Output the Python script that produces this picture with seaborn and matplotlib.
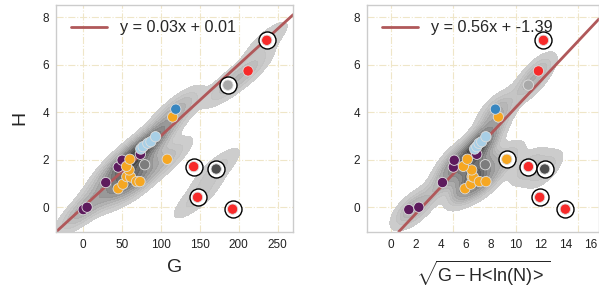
import numpy as np
import pandas as pd
import matplotlib
matplotlib.use("Agg")
import matplotlib.pyplot as plt
import seaborn as sns

# point data: group, G, H, sqrt(G - H<ln N>)
group = ['purple'] * 6 + ['orange'] * 11 + ['lightblue'] * 5 + ['gray', 'blue'] + \
        ['red'] * 5 + ['darkgray', 'lightgray']
G = [0, 5, 29, 45, 50, 73.5,
     45, 51, 56, 61, 68.5, 73, 59, 55.6, 60, 108, 115,
     74, 77, 83, 87, 93,
     79, 119,
     142, 147, 192, 212, 236,
     171, 186]
H = [-0.1, 0.0, 1.04, 1.69, 1.98, 2.23,
     0.78, 0.97, 1.29, 1.27, 1.08, 1.08, 1.57, 1.72, 2.02, 2.02, 3.8,
     2.45, 2.55, 2.69, 2.76, 2.97,
     1.79, 4.13,
     1.71, 0.42, -0.08, 5.74, 7.03,
     1.61, 5.14]
S = [1.44, 2.24, 4.13, 5.0, 5.07, 6.87,
     5.93, 6.4, 6.5, 6.6, 7.08, 7.61, 6.47, 5.8, 6.12, 9.27, 8.6,
     6.7, 6.87, 7.05, 7.27, 7.6,
     7.55, 8.36,
     11.0, 11.9, 13.95, 11.8, 12.2,
     12.3, 11.0]
# outliers ringed in each panel
ring_left = [0] * 24 + [1, 1, 1, 0, 1, 1, 1]
ring_right = [0] * 15 + [1] + [0] * 8 + [1, 1, 1, 0, 1, 1, 0]
# weight of each point in the density shading
kde_left = [1] * 24 + [0, 0.8, 0, 1, 0.6, 0.8, 1]
kde_right = [1] * 24 + [1, 0, 0, 1, 0, 1, 1]

fit_left = (0.03, 0.01)
fit_right = (0.56, -1.39)

palette = {'purple': '#5d1b5d', 'orange': '#f6a722', 'lightblue': '#a8cfe6',
           'blue': '#3886c0', 'gray': '#7d7d7d', 'darkgray': '#4e4e4e',
           'red': '#f72a2a', 'lightgray': '#a9a9a9'}

df = pd.DataFrame({'group': group, 'G': G, 'H': H, 'S': S,
                   'ring_l': ring_left, 'ring_r': ring_right,
                   'w_l': kde_left, 'w_r': kde_right})

sns.set_style("white")
plt.rcParams['font.family'] = ['Liberation Sans', 'DejaVu Sans']
plt.rcParams['mathtext.fontset'] = 'custom'
plt.rcParams['mathtext.rm'] = 'Liberation Sans'
plt.rcParams['mathtext.it'] = 'Liberation Sans:italic'

fig = plt.figure(figsize=(5.99, 2.88), dpi=100)
ax1 = fig.add_axes([0.0935, 0.1955, 0.396, 0.7875])
ax2 = fig.add_axes([0.6127, 0.1955, 0.3873, 0.7875])

greys = sns.blend_palette(['#cfcfcf', '#3a3a3a'], as_cmap=True)


def panel(ax, xcol, wcol, rcol, fit, xlim, xticks, gridx, xlabel):
    for x in gridx:
        ax.axvline(x, color='#efe6c8', lw=0.8, ls='-.', zorder=0)
    for y in [0, 2, 4, 6, 8]:
        ax.axhline(y, color='#efe6c8', lw=0.8, ls='-.', zorder=0)
    sns.kdeplot(data=df, x=xcol, y='H', weights=wcol, fill=True, cmap=greys,
                levels=12, thresh=0.04, bw_adjust=0.62, alpha=0.95, ax=ax, zorder=1)
    m, b = fit
    ax.axline((0, b), slope=m, color='#b0585a', lw=2,
              label=f'y = {m}x + {b}', zorder=2)
    rings = df[df[rcol] == 1]
    ax.scatter(rings[xcol], rings['H'], s=150, facecolor='white',
               edgecolor='black', lw=1, zorder=3)
    sns.scatterplot(data=df, x=xcol, y='H', hue='group', palette=palette,
                    s=55, edgecolor='#dddddd', linewidth=0.6, legend=False,
                    ax=ax, zorder=4)
    ax.set_xlim(*xlim)
    ax.set_ylim(-1.03, 8.52)
    ax.set_xticks(xticks)
    ax.set_yticks([0, 2, 4, 6, 8])
    ax.tick_params(length=3, width=0.8, color='#555555', labelsize=8.5,
                   labelcolor='#222222', pad=2)
    ax.set_xlabel(xlabel, fontsize=14, labelpad=6)
    ax.set_ylabel('')
    for sp in ax.spines.values():
        sp.set_color('#cccccc')
        sp.set_linewidth(1)
    ax.legend(loc='upper left', frameon=False, fontsize=11.7,
              handlelength=2.2, borderaxespad=0.55, handletextpad=0.8)


panel(ax1, 'G', 'w_l', 'ring_l', fit_left, (-35, 270), [0, 50, 100, 150, 200, 250],
      [0, 50, 100, 150, 200, 250], 'G')
ax1.set_ylabel('H', fontsize=14, labelpad=10)
panel(ax2, 'S', 'w_r', 'ring_r', fit_right, (-1.9, 16.64), list(range(0, 17, 2)),
      [0, 5, 10, 15], r'$\sqrt{\mathrm{G - H\!<\!ln(N)\!>}}$')
ax2.xaxis.label.set_fontsize(13)

fig.savefig('out.png', dpi=100)
